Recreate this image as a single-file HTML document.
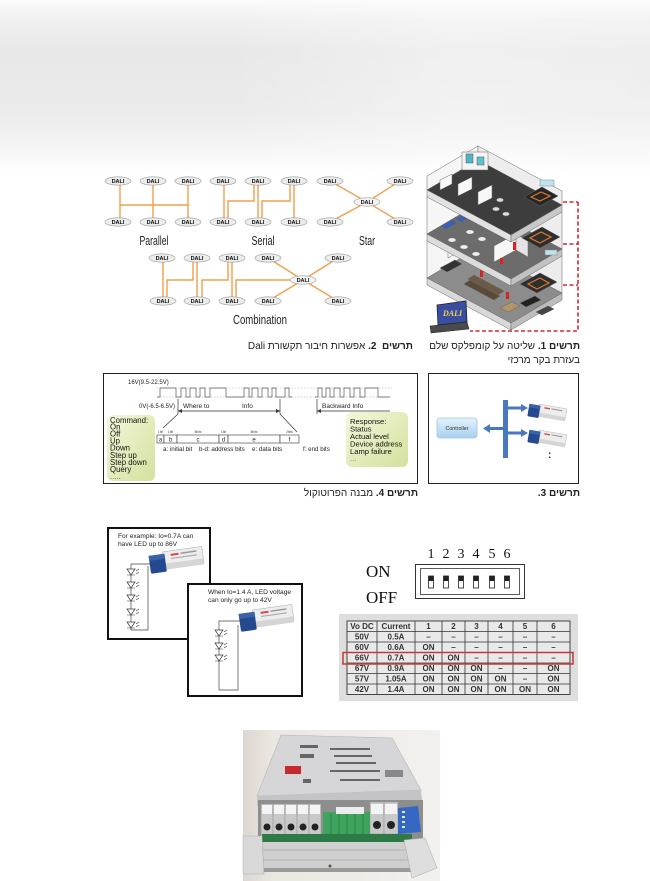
<!DOCTYPE html>
<html><head><meta charset="utf-8">
<style>
html,body{margin:0;padding:0;background:#fff;}
body{width:650px;height:881px;position:relative;overflow:hidden;font-family:"Liberation Sans","DejaVu Sans",sans-serif;}
svg{position:absolute;left:0;top:0;}
.cap{position:absolute;direction:rtl;text-align:right;font-size:10px;line-height:14px;color:#222;white-space:nowrap;font-family:"Liberation Sans","DejaVu Sans",sans-serif;}
.cap b{font-weight:bold;}
</style></head><body>
<svg width="650" height="881" viewBox="0 0 650 881" xmlns="http://www.w3.org/2000/svg" font-family="Liberation Sans, DejaVu Sans, sans-serif">
<defs>
<linearGradient id="bg" x1="0" y1="0" x2="0" y2="1">
 <stop offset="0" stop-color="#fbfbfb"/>
 <stop offset="0.12" stop-color="#f0f0f0"/>
 <stop offset="0.3" stop-color="#e8e8e8"/>
 <stop offset="0.65" stop-color="#ebebeb"/>
 <stop offset="0.88" stop-color="#f6f6f6"/>
 <stop offset="1" stop-color="#ffffff"/>
</linearGradient>
<linearGradient id="hz" x1="0" y1="0" x2="1" y2="0">
 <stop offset="0" stop-color="#fff" stop-opacity="0"/>
 <stop offset="0.35" stop-color="#fff" stop-opacity="0"/>
 <stop offset="0.7" stop-color="#fff" stop-opacity="0.35"/>
 <stop offset="1" stop-color="#fff" stop-opacity="0.25"/>
</linearGradient>
<linearGradient id="yg" x1="0" y1="0" x2="1" y2="1">
 <stop offset="0" stop-color="#f4f7dc"/>
 <stop offset="1" stop-color="#d3e19c"/>
</linearGradient>
<linearGradient id="bl" x1="0" y1="0" x2="0" y2="1">
 <stop offset="0" stop-color="#e4f2fb"/>
 <stop offset="1" stop-color="#a9d0ee"/>
</linearGradient>
<linearGradient id="ph" x1="0" y1="0" x2="1" y2="0">
 <stop offset="0" stop-color="#dcd7d0"/>
 <stop offset="0.15" stop-color="#ebe7e1"/>
 <stop offset="1" stop-color="#f3f1ee"/>
</linearGradient>
</defs>

<!-- background top -->
<rect x="0" y="0" width="650" height="172" fill="url(#bg)"/>
<rect x="0" y="0" width="650" height="172" fill="url(#hz)"/>

<!-- ============ DALI topologies ============ -->
<g stroke="#f0a04b" stroke-width="1.4" fill="none">
 <!-- parallel -->
 <path d="M120,185 V218 M153,185 V218 M188,185 V218 M120,205 H188"/>
 <!-- serial -->
 <path d="M224,185 V218 M228,218 V201 H254 V185 M258,185 V218 M262,218 V201 H290 V185 M294,185 V218"/>
 <!-- star -->
 <path d="M367,202 L330,181 M367,202 L400,181 M367,202 L330,222 M367,202 L400,222"/>
 <!-- combination -->
 <path d="M163,262 V297 M167,297 V280 H193 V262 M197,262 V297 M202,297 V280 H228 V262 M232,262 V297 M236,297 V280 H303"/>
 <path d="M303,280 L268,258 M303,280 L338,258 M303,280 L268,301 M303,280 L338,301"/>
</g>
<g font-size="5.5" font-weight="bold" text-anchor="middle" fill="#111">
 <g transform="translate(118,181)"><ellipse rx="13" ry="4.2" fill="#ececec" stroke="#9a9a9a" stroke-width="0.6"/><text y="2">DALI</text></g>
 <g transform="translate(153,181)"><ellipse rx="13" ry="4.2" fill="#ececec" stroke="#9a9a9a" stroke-width="0.6"/><text y="2">DALI</text></g>
 <g transform="translate(188,181)"><ellipse rx="13" ry="4.2" fill="#ececec" stroke="#9a9a9a" stroke-width="0.6"/><text y="2">DALI</text></g>
 <g transform="translate(118,222)"><ellipse rx="13" ry="4.2" fill="#ececec" stroke="#9a9a9a" stroke-width="0.6"/><text y="2">DALI</text></g>
 <g transform="translate(153,222)"><ellipse rx="13" ry="4.2" fill="#ececec" stroke="#9a9a9a" stroke-width="0.6"/><text y="2">DALI</text></g>
 <g transform="translate(188,222)"><ellipse rx="13" ry="4.2" fill="#ececec" stroke="#9a9a9a" stroke-width="0.6"/><text y="2">DALI</text></g>

 <g transform="translate(223,181)"><ellipse rx="13" ry="4.2" fill="#ececec" stroke="#9a9a9a" stroke-width="0.6"/><text y="2">DALI</text></g>
 <g transform="translate(258,181)"><ellipse rx="13" ry="4.2" fill="#ececec" stroke="#9a9a9a" stroke-width="0.6"/><text y="2">DALI</text></g>
 <g transform="translate(294,181)"><ellipse rx="13" ry="4.2" fill="#ececec" stroke="#9a9a9a" stroke-width="0.6"/><text y="2">DALI</text></g>
 <g transform="translate(223,222)"><ellipse rx="13" ry="4.2" fill="#ececec" stroke="#9a9a9a" stroke-width="0.6"/><text y="2">DALI</text></g>
 <g transform="translate(258,222)"><ellipse rx="13" ry="4.2" fill="#ececec" stroke="#9a9a9a" stroke-width="0.6"/><text y="2">DALI</text></g>
 <g transform="translate(294,222)"><ellipse rx="13" ry="4.2" fill="#ececec" stroke="#9a9a9a" stroke-width="0.6"/><text y="2">DALI</text></g>

 <g transform="translate(330,181)"><ellipse rx="13" ry="4.2" fill="#ececec" stroke="#9a9a9a" stroke-width="0.6"/><text y="2">DALI</text></g>
 <g transform="translate(400,181)"><ellipse rx="13" ry="4.2" fill="#ececec" stroke="#9a9a9a" stroke-width="0.6"/><text y="2">DALI</text></g>
 <g transform="translate(367,202)"><ellipse rx="13" ry="4.2" fill="#f4f4f4" stroke="#9a9a9a" stroke-width="0.6"/><text y="2">DALI</text></g>
 <g transform="translate(330,222)"><ellipse rx="13" ry="4.2" fill="#ececec" stroke="#9a9a9a" stroke-width="0.6"/><text y="2">DALI</text></g>
 <g transform="translate(400,222)"><ellipse rx="13" ry="4.2" fill="#ececec" stroke="#9a9a9a" stroke-width="0.6"/><text y="2">DALI</text></g>

 <g transform="translate(162,258)"><ellipse rx="13" ry="4.2" fill="#ececec" stroke="#9a9a9a" stroke-width="0.6"/><text y="2">DALI</text></g>
 <g transform="translate(197,258)"><ellipse rx="13" ry="4.2" fill="#ececec" stroke="#9a9a9a" stroke-width="0.6"/><text y="2">DALI</text></g>
 <g transform="translate(232,258)"><ellipse rx="13" ry="4.2" fill="#ececec" stroke="#9a9a9a" stroke-width="0.6"/><text y="2">DALI</text></g>
 <g transform="translate(268,258)"><ellipse rx="13" ry="4.2" fill="#ececec" stroke="#9a9a9a" stroke-width="0.6"/><text y="2">DALI</text></g>
 <g transform="translate(338,258)"><ellipse rx="13" ry="4.2" fill="#ececec" stroke="#9a9a9a" stroke-width="0.6"/><text y="2">DALI</text></g>
 <g transform="translate(303,280)"><ellipse rx="13" ry="4.2" fill="#f4f4f4" stroke="#9a9a9a" stroke-width="0.6"/><text y="2">DALI</text></g>
 <g transform="translate(163,301)"><ellipse rx="13" ry="4.2" fill="#ececec" stroke="#9a9a9a" stroke-width="0.6"/><text y="2">DALI</text></g>
 <g transform="translate(197,301)"><ellipse rx="13" ry="4.2" fill="#ececec" stroke="#9a9a9a" stroke-width="0.6"/><text y="2">DALI</text></g>
 <g transform="translate(232,301)"><ellipse rx="13" ry="4.2" fill="#ececec" stroke="#9a9a9a" stroke-width="0.6"/><text y="2">DALI</text></g>
 <g transform="translate(268,301)"><ellipse rx="13" ry="4.2" fill="#ececec" stroke="#9a9a9a" stroke-width="0.6"/><text y="2">DALI</text></g>
 <g transform="translate(338,301)"><ellipse rx="13" ry="4.2" fill="#ececec" stroke="#9a9a9a" stroke-width="0.6"/><text y="2">DALI</text></g>
</g>
<g font-size="12.5" fill="#222" text-anchor="middle">
 <text x="154" y="245" textLength="29" lengthAdjust="spacingAndGlyphs">Parallel</text>
 <text x="263" y="245" textLength="23" lengthAdjust="spacingAndGlyphs">Serial</text>
 <text x="367" y="245" textLength="16" lengthAdjust="spacingAndGlyphs">Star</text>
 <text x="260" y="324" textLength="54" lengthAdjust="spacingAndGlyphs">Combination</text>
</g>

<!-- ============ Building ============ -->
<g stroke="#666" stroke-width="0.5">
 <!-- bottom floor -->
 <polygon points="427,278 478,248 478,210 427,240" fill="#f5f5f5"/>
 <polygon points="478,248 562,293 562,255 478,210" fill="#ececec"/>
 <polygon points="427,278 478,248 562,293 511,323" fill="#8c8c8c"/>
 <polygon points="427,278 511,323 511,330 427,285" fill="#d8d8d8"/>
 <polygon points="511,323 562,293 562,300 511,330" fill="#bdbdbd"/>
 <!-- bottom furniture -->
 <polygon points="440,268 455,260 462,264 447,272" fill="#333"/>
 <polygon points="470,280 500,296 494,300 464,284" fill="#5a4a3a"/>
 <polygon points="474,275 504,291 498,295 468,279" fill="#6b5a48"/>
 <polygon points="520,303 535,296 541,300 526,307" fill="#222"/>
 <polygon points="500,308 512,302 520,306 508,312" fill="#b49468"/>
 <polygon points="536,312 548,306 554,309 542,315" fill="#444"/>
 <polygon points="448,258 448,246 458,240 458,252" fill="#f8f8f8"/>
 <polygon points="463,250 463,238 476,231 476,243" fill="#f8f8f8"/>
 <rect x="506" y="292" width="3" height="7" fill="#d22" stroke="none"/>
 <rect x="480" y="270" width="3" height="7" fill="#d22" stroke="none"/>
 <!-- bottom right dark room -->
 <polygon points="520,284 540,273 557,282 537,293" fill="#2e2e2e"/>
 <polygon points="528,284 540,278 549,283 537,289" fill="none" stroke="#e07830" stroke-width="1.2"/>

 <!-- middle floor -->
 <polygon points="427,234 478,204 478,166 427,196" fill="#f6f6f6"/>
 <polygon points="478,204 562,249 562,211 478,166" fill="#ededed"/>
 <polygon points="427,234 478,204 562,249 511,279" fill="#6c6c6c"/>
 <polygon points="427,234 511,279 511,286 427,241" fill="#dcdcdc"/>
 <polygon points="511,279 562,249 562,256 511,286" fill="#c2c2c2"/>
 <!-- middle furniture -->
 <polygon points="441,226 452,220 457,223 446,229" fill="#3a5fb8"/>
 <polygon points="456,219 467,213 472,216 461,222" fill="#3a5fb8"/>
 <ellipse cx="452" cy="240" rx="4" ry="2.2" fill="#eee"/>
 <ellipse cx="464" cy="247" rx="4" ry="2.2" fill="#eee"/>
 <ellipse cx="476" cy="254" rx="4" ry="2.2" fill="#eee"/>
 <ellipse cx="470" cy="232" rx="4" ry="2.2" fill="#eee"/>
 <ellipse cx="482" cy="239" rx="4" ry="2.2" fill="#eee"/>
 <ellipse cx="490" cy="222" rx="4" ry="2.2" fill="#eee"/>
 <polygon points="494,262 494,246 516,234 516,250" fill="#f7f7f7"/>
 <polygon points="516,250 516,234 528,241 528,257" fill="#e4e4e4"/>
 <rect x="513" y="242" width="3" height="8" fill="#d22" stroke="none"/>
 <rect x="500" y="258" width="3" height="6" fill="#d22" stroke="none"/>
 <!-- middle right room w/ stairs -->
 <polygon points="522,238 542,227 560,237 540,248" fill="#2e2e2e"/>
 <polygon points="530,238 541,232 551,237 540,243" fill="none" stroke="#e07830" stroke-width="1.2"/>
 <rect x="545" y="250" width="12" height="5" fill="#bfe3ef" stroke="#888"/>

 <!-- top floor -->
 <polygon points="427,190 478,160 478,146 427,176" fill="#f6f6f6"/>
 <polygon points="478,160 562,205 562,191 478,146" fill="#ededed"/>
 <polygon points="427,190 478,160 562,205 511,235" fill="#3d3d3d"/>
 <polygon points="427,190 511,235 511,242 427,197" fill="#e2e2e2"/>
 <polygon points="511,235 562,205 562,212 511,242" fill="#c8c8c8"/>
 <!-- top details -->
 <polygon points="462,170 462,152 488,152 488,170" fill="#f4f4f4"/>
 <rect x="466" y="154" width="7" height="9" fill="#4db6c4" stroke="#555"/>
 <rect x="477" y="157" width="7" height="8" fill="#5ec2c9" stroke="#555"/>
 <polygon points="440,190 440,180 452,174 452,184" fill="#f8f8f8"/>
 <polygon points="458,196 458,184 472,177 472,189" fill="#f8f8f8"/>
 <polygon points="478,205 478,192 492,185 492,198" fill="#f8f8f8"/>
 <ellipse cx="496" cy="209" rx="3.5" ry="2" fill="#ddd"/>
 <ellipse cx="506" cy="214" rx="3.5" ry="2" fill="#ddd"/>
 <ellipse cx="500" cy="200" rx="3.5" ry="2" fill="#ddd"/>
 <polygon points="524,197 542,187 558,196 540,206" fill="#262626"/>
 <polygon points="531,197 541,192 550,196 540,201" fill="none" stroke="#e07830" stroke-width="1.2"/>
 <rect x="540" y="180" width="14" height="6" fill="#bfe3ef" stroke="#888"/>
</g>
<!-- red dashed link -->
<g stroke="#d8262b" stroke-width="1.6" fill="none" stroke-dasharray="4,2.5">
 <path d="M578,202 V331 H470"/>
 <path d="M563,202 H578 M563,244 H578 M563,285 H578"/>
</g>
<!-- laptop -->
<polygon points="437,305 466,301 467,322 438,325" fill="#394ea0" stroke="#222" stroke-width="0.8"/>
<text x="443" y="316" font-size="8" font-style="italic" font-weight="bold" fill="#f2d64b" font-family="Liberation Serif, serif">DALI</text>
<polygon points="430,326 467,322 469,329 431,333" fill="#4a4a4a" stroke="#222" stroke-width="0.5"/>

<!-- ============ Protocol box ============ -->
<rect x="103.5" y="373.5" width="314" height="110" fill="#fff" stroke="#222" stroke-width="1"/>
<text x="128" y="384" font-size="6" fill="#222">16V(9.5-22.5V)</text>
<line x1="157" y1="388" x2="392" y2="388" stroke="#aaa" stroke-width="0.5" stroke-dasharray="1.5,1.5"/>
<line x1="157" y1="397" x2="392" y2="397" stroke="#999" stroke-width="0.6" stroke-dasharray="1.5,1.5"/>
<polyline fill="none" stroke="#555" stroke-width="0.7" points="157,397 160,397 160,388 176,388 176,397 181,397 181,388 186,388 186,397 190,397 190,388 196,388 196,397 200,397 200,388 205,388 205,397 210,397 210,388 226,388 226,397 244,397 244,388 249,388 249,397 252,397 252,388 258,388 258,397 262,397 262,388 268,388 268,397 272,397 272,388 276,388 276,397 285,397 285,388 289,388 289,397 292,397"/>
<polyline fill="none" stroke="#555" stroke-width="0.7" points="315,397 318,397 318,388 322,388 322,397 326,397 326,388 330,388 330,397 334,397 334,388 340,388 340,397 344,397 344,388 350,388 350,397 354,397 354,388 360,388 360,397 365,397 365,388 378,388 378,397 390,397"/>
<text x="175" y="408" font-size="6" fill="#222" text-anchor="end">0V(-6.5-6.5V)</text>
<g stroke="#333" stroke-width="0.7" fill="none">
 <path d="M178,399 V414 M280,399 V414 M317,399 V414"/>
 <path d="M178,411 H280 M317,411 H390"/>
 <path d="M178,414 L163,428 M280,414 L297,432"/>
</g>
<path d="M178,411 l4,-2 v4 z M280,411 l-4,-2 v4 z M317,411 l4,-2 v4 z" fill="#333"/>
<text x="183" y="408" font-size="6.5" fill="#222">Where to</text>
<text x="242" y="408" font-size="6.5" fill="#222">Info</text>
<text x="322" y="408" font-size="6.5" fill="#222">Backward  Info</text>
<g fill="#fff" stroke="#333" stroke-width="0.6">
 <rect x="157" y="435" width="7" height="8"/>
 <rect x="164" y="435" width="13" height="8"/>
 <rect x="177" y="435" width="42" height="8"/>
 <rect x="219" y="435" width="9" height="8"/>
 <rect x="228" y="435" width="52" height="8"/>
 <rect x="280" y="435" width="19" height="8"/>
</g>
<g font-size="6" fill="#222" text-anchor="middle">
 <text x="160.5" y="441.5">a</text><text x="170.5" y="441.5">b</text><text x="198" y="441.5">c</text>
 <text x="223.5" y="441.5">d</text><text x="254" y="441.5">e</text><text x="289.5" y="441.5">f</text>
</g>
<g font-size="3.2" fill="#444" text-anchor="middle">
 <text x="160.5" y="433">1bit</text><text x="170.5" y="433">1bit</text><text x="198" y="433">8bits</text>
 <text x="223.5" y="433">1bit</text><text x="254" y="433">8bits</text><text x="289.5" y="433">2bits</text>
</g>
<g font-size="6.2" fill="#222">
 <text x="163" y="451">a: initial bit</text>
 <text x="199" y="451">b-d: address bits</text>
 <text x="252" y="451">e: data bits</text>
 <text x="303" y="451">f: end bits</text>
</g>
<rect x="107" y="415" width="48" height="66" rx="6" fill="url(#yg)"/>
<g font-size="7.8" fill="#111">
 <text x="110" y="423">Command:</text>
 <text x="110" y="429.5">On</text>
 <text x="110" y="436.5">Off</text>
 <text x="110" y="443.5">Up</text>
 <text x="110" y="450.5">Down</text>
 <text x="110" y="458">Step up</text>
 <text x="110" y="465">Step down</text>
 <text x="110" y="472">Query</text>
 <text x="110" y="479" fill="#666">.....</text>
</g>
<rect x="346" y="412" width="62" height="55" rx="6" fill="url(#yg)"/>
<g font-size="7.6" fill="#111">
 <text x="350" y="424">Response:</text>
 <text x="350" y="431.5">Status</text>
 <text x="350" y="439">Actual level</text>
 <text x="350" y="446.5">Device address</text>
 <text x="350" y="454">Lamp failure</text>
 <text x="350" y="461" fill="#666">...</text>
</g>

<!-- ============ Controller box ============ -->
<rect x="428.5" y="373.5" width="150" height="110" fill="#fff" stroke="#222" stroke-width="1"/>
<rect x="437" y="418" width="40" height="20" rx="3" fill="url(#bl)" stroke="#9cc3e6" stroke-width="0.8"/>
<text x="457" y="430" font-size="5.3" fill="#333" text-anchor="middle">Controller</text>
<rect x="503" y="400" width="5" height="58" fill="#4a78c0"/>
<polygon points="503,427 490,427 490,424 483,428.5 490,433 490,430 503,430" fill="#4a78c0"/>
<polygon points="508,406.5 521,406.5 521,404 528,408 521,412 521,409.5 508,409.5" fill="#4a78c0"/>
<polygon points="508,431.5 521,431.5 521,429 528,433 521,437 521,434.5 508,434.5" fill="#4a78c0"/>
<g transform="translate(530,401) rotate(10) scale(0.7)">
 <rect x="14" y="2" width="40" height="16" fill="#ededed" stroke="#b0b0b0" stroke-width="0.6"/>
 <rect x="14" y="14" width="40" height="6" fill="#d5d5d5"/>
 <rect x="0" y="4" width="16" height="18" rx="1.5" fill="#24498e"/>
 <rect x="0" y="4" width="16" height="5" fill="#3a62a8"/>
 <rect x="22" y="5" width="8" height="2" fill="#d24b4b"/>
 <rect x="32" y="5" width="16" height="1.5" fill="#999"/>
</g>
<g transform="translate(530,427) rotate(10) scale(0.7)">
 <rect x="14" y="2" width="40" height="16" fill="#ededed" stroke="#b0b0b0" stroke-width="0.6"/>
 <rect x="14" y="14" width="40" height="6" fill="#d5d5d5"/>
 <rect x="0" y="4" width="16" height="18" rx="1.5" fill="#24498e"/>
 <rect x="0" y="4" width="16" height="5" fill="#3a62a8"/>
 <rect x="22" y="5" width="8" height="2" fill="#d24b4b"/>
 <rect x="32" y="5" width="16" height="1.5" fill="#999"/>
</g>
<text x="548" y="458" font-size="10" font-weight="bold" fill="#222">:</text>

<!-- ============ LED boxes ============ -->
<rect x="108" y="528" width="102" height="111" fill="#fff" stroke="#111" stroke-width="2"/>
<text x="118" y="538" font-size="6.6" fill="#222">For example: Io=0.7A can</text>
<text x="118" y="546" font-size="6.6" fill="#222">have LED up to 86V</text>
<path d="M150,564 H131 V630 H148 V566" fill="none" stroke="#444" stroke-width="0.7"/>
<g transform="translate(148,552) rotate(-8)">
 <rect x="14" y="2" width="40" height="16" fill="#ededed" stroke="#b0b0b0" stroke-width="0.6"/>
 <rect x="14" y="14" width="40" height="6" fill="#d5d5d5"/>
 <rect x="0" y="4" width="16" height="18" rx="1.5" fill="#24498e"/>
 <rect x="0" y="4" width="16" height="5" fill="#3a62a8"/>
 <rect x="22" y="5" width="8" height="2" fill="#d24b4b"/>
 <rect x="32" y="5" width="16" height="1.5" fill="#999"/>
 <rect x="22" y="9" width="26" height="1.2" fill="#aaa"/>
</g>
<g fill="#fff" stroke="#333" stroke-width="0.7">
 <polygon points="127,569 135,569 131,575"/><polygon points="127,582 135,582 131,588"/>
 <polygon points="127,595 135,595 131,601"/><polygon points="127,609 135,609 131,615"/>
 <polygon points="127,622 135,622 131,628"/>
</g>
<g stroke="#333" stroke-width="0.6">
 <path d="M127,575 H135 M127,588 H135 M127,601 H135 M127,615 H135 M127,628 H135"/>
 <path d="M136,571 l3,-2 M136,574 l3,-2 M136,584 l3,-2 M136,587 l3,-2 M136,597 l3,-2 M136,600 l3,-2 M136,611 l3,-2 M136,614 l3,-2 M136,624 l3,-2 M136,627 l3,-2"/>
</g>

<rect x="188" y="584" width="114" height="112" fill="#fff" stroke="#111" stroke-width="2"/>
<text x="208" y="594" font-size="6.6" fill="#222">When Io=1.4 A, LED voltage</text>
<text x="208" y="602" font-size="6.6" fill="#222">can only go up to 42V</text>
<path d="M240,621 H219 V690 H238 V625" fill="none" stroke="#444" stroke-width="0.7"/>
<g transform="translate(238,610) rotate(-8)">
 <rect x="14" y="2" width="40" height="16" fill="#ededed" stroke="#b0b0b0" stroke-width="0.6"/>
 <rect x="14" y="14" width="40" height="6" fill="#d5d5d5"/>
 <rect x="0" y="4" width="16" height="18" rx="1.5" fill="#24498e"/>
 <rect x="0" y="4" width="16" height="5" fill="#3a62a8"/>
 <rect x="22" y="5" width="8" height="2" fill="#d24b4b"/>
 <rect x="32" y="5" width="16" height="1.5" fill="#999"/>
 <rect x="22" y="9" width="26" height="1.2" fill="#aaa"/>
</g>
<g fill="#fff" stroke="#333" stroke-width="0.7">
 <polygon points="215,630 223,630 219,636"/><polygon points="215,643 223,643 219,649"/>
 <polygon points="215,655 223,655 219,661"/>
</g>
<g stroke="#333" stroke-width="0.6">
 <path d="M215,636 H223 M215,649 H223 M215,661 H223"/>
 <path d="M224,632 l3,-2 M224,635 l3,-2 M224,645 l3,-2 M224,648 l3,-2 M224,657 l3,-2 M224,660 l3,-2"/>
</g>

<!-- ============ DIP switch ============ -->
<g font-family="Liberation Serif, serif" fill="#111">
 <g font-size="14" text-anchor="middle">
  <text x="431" y="558">1</text><text x="446" y="558">2</text><text x="461" y="558">3</text>
  <text x="476" y="558">4</text><text x="492" y="558">5</text><text x="507" y="558">6</text>
 </g>
 <text x="366" y="577" font-size="17">ON</text>
 <text x="366" y="603" font-size="17">OFF</text>
</g>
<rect x="415.5" y="564.5" width="109" height="34" fill="#fff" stroke="#333" stroke-width="1"/>
<rect x="420.5" y="568.5" width="99" height="26" fill="#fff" stroke="#333" stroke-width="0.8"/>
<g stroke="#222" stroke-width="0.8" fill="#fff">
 <rect x="428.5" y="576" width="5" height="12"/><rect x="443.5" y="576" width="5" height="12"/>
 <rect x="458.5" y="576" width="5" height="12"/><rect x="473.5" y="576" width="5" height="12"/>
 <rect x="489.5" y="576" width="5" height="12"/><rect x="504.5" y="576" width="5" height="12"/>
</g>
<g fill="#222">
 <rect x="428.5" y="576" width="5" height="5"/><rect x="443.5" y="576" width="5" height="5"/>
 <rect x="458.5" y="576" width="5" height="5"/><rect x="473.5" y="576" width="5" height="5"/>
 <rect x="489.5" y="576" width="5" height="5"/><rect x="504.5" y="576" width="5" height="5"/>
</g>

<!-- ============ Table ============ -->
<rect x="339" y="614" width="239" height="87" fill="#dedede"/>
<rect x="347" y="621" width="223" height="73.5" fill="#e9e9e9" stroke="#333" stroke-width="0.9"/>
<g stroke="#333" stroke-width="0.8">
 <path d="M377,621 V694.5 M415,621 V694.5 M442,621 V694.5 M465,621 V694.5 M488,621 V694.5 M513,621 V694.5 M537,621 V694.5"/>
 <path d="M347,631.5 H570 M347,642 H570 M347,652.5 H570 M347,663 H570 M347,673.5 H570 M347,684 H570"/>
</g>
<g font-family="Liberation Sans Narrow, Liberation Sans, sans-serif" font-weight="bold" font-size="8" fill="#333" text-anchor="middle">
 <text x="362" y="629">Vo DC</text><text x="396" y="629">Current</text>
 <text x="428.5" y="629">1</text><text x="453.5" y="629">2</text><text x="476.5" y="629">3</text>
 <text x="500.5" y="629">4</text><text x="525" y="629">5</text><text x="553.5" y="629">6</text>

 <text x="362" y="639.5">50V</text><text x="396" y="639.5">0.5A</text>
 <text x="428.5" y="639.5">–</text><text x="453.5" y="639.5">–</text><text x="476.5" y="639.5">–</text>
 <text x="500.5" y="639.5">–</text><text x="525" y="639.5">–</text><text x="553.5" y="639.5">–</text>

 <text x="362" y="650">60V</text><text x="396" y="650">0.6A</text>
 <text x="428.5" y="650">ON</text><text x="453.5" y="650">–</text><text x="476.5" y="650">–</text>
 <text x="500.5" y="650">–</text><text x="525" y="650">–</text><text x="553.5" y="650">–</text>

 <text x="362" y="660.5">66V</text><text x="396" y="660.5">0.7A</text>
 <text x="428.5" y="660.5">ON</text><text x="453.5" y="660.5">ON</text><text x="476.5" y="660.5">–</text>
 <text x="500.5" y="660.5">–</text><text x="525" y="660.5">–</text><text x="553.5" y="660.5">–</text>

 <text x="362" y="671">67V</text><text x="396" y="671">0.9A</text>
 <text x="428.5" y="671">ON</text><text x="453.5" y="671">ON</text><text x="476.5" y="671">ON</text>
 <text x="500.5" y="671">–</text><text x="525" y="671">–</text><text x="553.5" y="671">ON</text>

 <text x="362" y="681.5">57V</text><text x="396" y="681.5">1.05A</text>
 <text x="428.5" y="681.5">ON</text><text x="453.5" y="681.5">ON</text><text x="476.5" y="681.5">ON</text>
 <text x="500.5" y="681.5">ON</text><text x="525" y="681.5">–</text><text x="553.5" y="681.5">ON</text>

 <text x="362" y="692">42V</text><text x="396" y="692">1.4A</text>
 <text x="428.5" y="692">ON</text><text x="453.5" y="692">ON</text><text x="476.5" y="692">ON</text>
 <text x="500.5" y="692">ON</text><text x="525" y="692">ON</text><text x="553.5" y="692">ON</text>
</g>
<rect x="343" y="652.5" width="230" height="11.5" fill="none" stroke="#c23a35" stroke-width="1.5"/>

<!-- ============ Photo ============ -->
<rect x="243" y="730" width="197" height="151" fill="url(#ph)"/>
<polygon points="281,735 392,738 421,790 257,796" fill="#d6d6d8" stroke="#b5b5b5" stroke-width="0.6"/>
<g fill="#666">
 <rect x="300" y="745" width="18" height="3"/><rect x="330" y="748" width="40" height="2"/>
 <rect x="334" y="755" width="38" height="2"/><rect x="336" y="762" width="40" height="2"/>
 <rect x="330" y="770" width="50" height="2"/><rect x="300" y="754" width="14" height="4"/>
 <rect x="303" y="779" width="8" height="4"/><rect x="340" y="779" width="40" height="2"/>
 <rect x="385" y="770" width="18" height="7" fill="#888"/>
</g>
<rect x="285" y="766" width="16" height="8" fill="#c62a2f"/>
<polygon points="257,796 421,790 422,800 257,806" fill="#c4c4c6"/>
<rect x="258" y="800" width="165" height="44" fill="#8d8f8f"/>
<g stroke="#9a9a9a" stroke-width="0.6">
 <rect x="261" y="804" width="12" height="34" fill="#c9c9c9"/>
 <rect x="273" y="804" width="12" height="34" fill="#c9c9c9"/>
 <rect x="285" y="804" width="12" height="34" fill="#c9c9c9"/>
 <rect x="297" y="804" width="12" height="34" fill="#c9c9c9"/>
 <rect x="309" y="804" width="12" height="34" fill="#c9c9c9"/>
 <rect x="370" y="802" width="14" height="32" fill="#c9c9c9"/>
 <rect x="384" y="802" width="14" height="32" fill="#c9c9c9"/>
</g>
<g fill="#f4f4f4">
 <rect x="262" y="805" width="10" height="9"/><rect x="274" y="805" width="10" height="9"/>
 <rect x="286" y="805" width="10" height="9"/><rect x="298" y="805" width="10" height="9"/>
 <rect x="310" y="805" width="10" height="9"/>
 <rect x="371" y="804" width="12" height="10"/><rect x="385" y="804" width="12" height="10"/>
</g>
<g fill="#222">
 <circle cx="267" cy="827" r="3.5"/><circle cx="279" cy="827" r="3.5"/><circle cx="291" cy="827" r="3.5"/>
 <circle cx="303" cy="827" r="3.5"/><circle cx="315" cy="827" r="3.5"/>
 <circle cx="377" cy="825" r="4"/><circle cx="391" cy="825" r="4"/>
</g>
<rect x="323" y="812" width="47" height="22" fill="#3ea35d"/>
<rect x="336" y="807" width="28" height="7" fill="#ececec"/>
<g stroke="#2a7a45" stroke-width="0.8"><path d="M331,814 V834 M339,814 V834 M347,814 V834 M355,814 V834 M363,814 V834"/></g>
<polygon points="398,808 418,806 421,832 398,834" fill="#3568c2"/>
<g fill="#dfe8f8"><rect x="402" y="811" width="3" height="2"/><rect x="402" y="816" width="3" height="2"/><rect x="402" y="821" width="3" height="2"/><rect x="402" y="826" width="3" height="2"/></g>
<rect x="262" y="834" width="150" height="8" fill="#2e7a46"/>
<rect x="258" y="842" width="165" height="26" fill="#cfcfcf"/>
<path d="M258,850 H423 M258,860 H423" stroke="#aaa" stroke-width="0.8"/>
<rect x="258" y="868" width="165" height="4" fill="#9a9a9a"/>
<polygon points="243,836 262,836 264,874 243,874" fill="#d9d9d9" stroke="#aaa" stroke-width="0.5"/>
<polygon points="404,840 425,838 437,868 412,878" fill="#dedede" stroke="#aaa" stroke-width="0.5"/>
<circle cx="330" cy="866" r="1.5" fill="#555"/>
</svg>

<div class="cap" style="right:70px;top:340px;"><b>תרשים 1.</b> שליטה על קומפלקס שלם<br>בעזרת בקר מרכזי</div>
<div class="cap" style="right:237px;top:340px;"><b>תרשים&nbsp; 2.</b> אפשרות חיבור תקשורת Dali</div>
<div class="cap" style="right:70px;top:487px;"><b>תרשים 3.</b></div>
<div class="cap" style="right:232px;top:487px;"><b>תרשים 4.</b> מבנה הפרוטוקול</div>
</body></html>
